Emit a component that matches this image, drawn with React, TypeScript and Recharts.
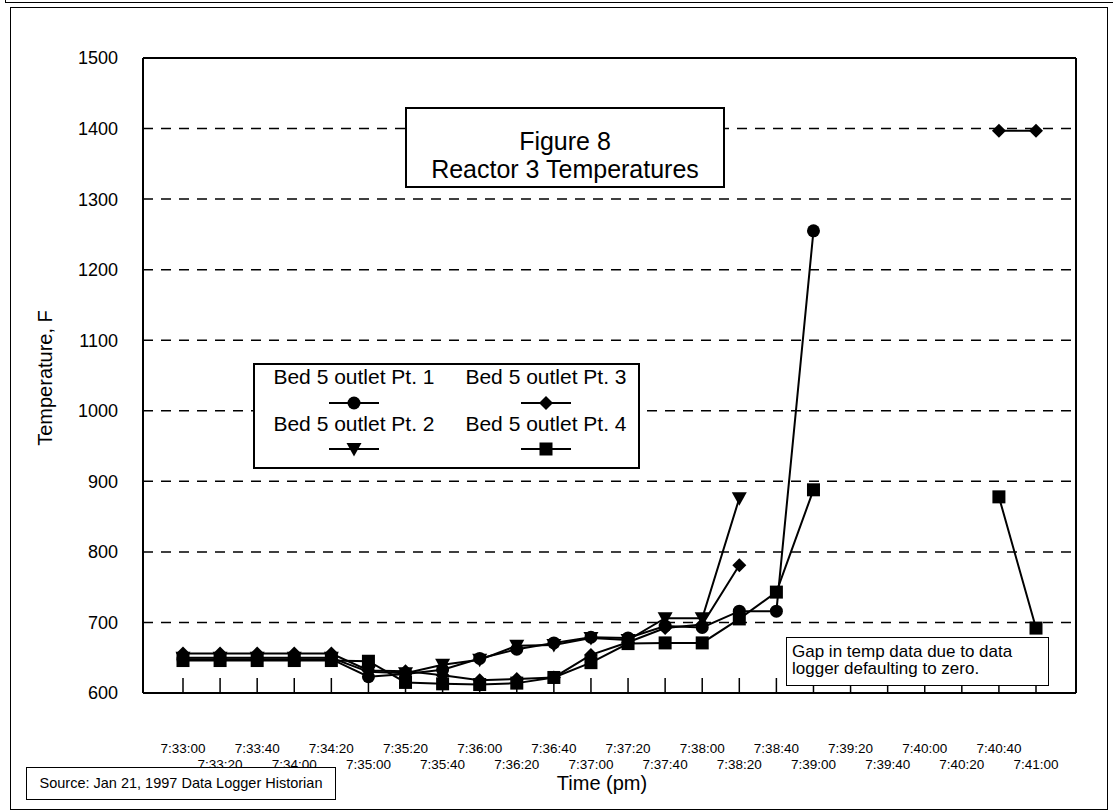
import React from 'react';
import { LineChart, Line, XAxis, YAxis, CartesianGrid, Legend } from 'recharts';

const times = ['7:33:00', '7:33:20', '7:33:40', '7:34:00', '7:34:20', '7:35:00', '7:35:20', '7:35:40', '7:36:00', '7:36:20', '7:36:40', '7:37:00', '7:37:20', '7:37:40', '7:38:00', '7:38:20', '7:38:40', '7:39:00', '7:39:20', '7:39:40', '7:40:00', '7:40:20', '7:40:40', '7:41:00'];
const pt1: (number | null)[] = [648, 648, 648, 648, 648, 623, 627, 633, 649, 662, 671, 679, 678, 695, 693, 716, 716, 1255, null, null, null, null, null, null];
const pt2: (number | null)[] = [650, 650, 650, 650, 650, 630, 628, 640, 647, 667, 668, 678, 675, 706, 706, 876, null, null, null, null, null, null, null, null];
const pt3: (number | null)[] = [656, 656, 656, 656, 656, 632, 631, 625, 618, 620, 622, 654, 672, 692, 697, 781, null, null, null, null, null, null, 1397, 1397];
const pt4: (number | null)[] = [646, 646, 646, 646, 646, 645, 615, 613, 612, 614, 622, 643, 670, 671, 671, 705, 743, 888, null, null, null, null, 878, 692];
const yTicks = [600, 700, 800, 900, 1000, 1100, 1200, 1300, 1400, 1500];

const seriesNames = ['Bed 5 outlet Pt. 1', 'Bed 5 outlet Pt. 2', 'Bed 5 outlet Pt. 3', 'Bed 5 outlet Pt. 4'];
const seriesKeys = ['pt1', 'pt2', 'pt3', 'pt4'];
const seriesShapes = ['circle', 'triangle', 'diamond', 'square'];

const data = times.map((t, i) => ({ time: t, pt1: pt1[i], pt2: pt2[i], pt3: pt3[i], pt4: pt4[i] }));

const FONT = '"Liberation Sans", Arial, Helvetica, sans-serif';

function Marker({ kind, cx, cy }: { kind: string; cx: number; cy: number }) {
  if (kind === 'circle') return <circle cx={cx} cy={cy} r={6.5} fill="#000" />;
  if (kind === 'triangle')
    return <polygon points={`${cx - 7.5},${cy - 6} ${cx + 7.5},${cy - 6} ${cx},${cy + 7.5}`} fill="#000" />;
  if (kind === 'diamond')
    return <polygon points={`${cx},${cy - 7} ${cx + 7},${cy} ${cx},${cy + 7} ${cx - 7},${cy}`} fill="#000" />;
  return <rect x={cx - 6.5} y={cy - 6.5} width={13} height={13} fill="#000" />;
}

const makeDot = (kind: string) => (props: any) => {
  const { cx, cy, index, value } = props;
  if (cx == null || cy == null || value == null || Number.isNaN(cy)) return <g key={`e${index}`} />;
  return (
    <g key={`d${index}`}>
      <Marker kind={kind} cx={cx} cy={cy} />
    </g>
  );
};

const XTick = (props: any) => {
  const { x, y, payload } = props;
  const idx = payload?.index ?? props.index ?? 0;
  const second = idx % 2 === 1;
  return (
    <text x={x} y={y} dy={second ? 91 : 75} textAnchor="middle" fontSize={13.5} fontFamily={FONT} fill="#000">
      {payload.value}
    </text>
  );
};

const LegendBox = () => {
  const cols = [99, 291];
  const items = [0, 1, 2, 3];
  return (
    <div
      style={{
        position: 'relative',
        width: 387,
        height: 106,
        border: '2px solid #000',
        boxSizing: 'border-box',
        background: '#fff',
        fontFamily: FONT,
      }}
    >
      {items.map((i) => {
        const col = i < 2 ? 0 : 1;
        const row = i % 2;
        const cx = cols[col];
        const ty = row === 0 ? 12 : 59;
        const my = row === 0 ? 38 : 84;
        return (
          <React.Fragment key={i}>
            <div
              style={{
                position: 'absolute',
                left: cx - 110,
                width: 220,
                top: ty - 13,
                textAlign: 'center',
                fontSize: 21,
                lineHeight: '26px',
                color: '#000',
                whiteSpace: 'nowrap',
              }}
            >
              {seriesNames[i]}
            </div>
            <svg style={{ position: 'absolute', left: cx - 30, top: my - 10 }} width={60} height={20}>
              <line x1={5} y1={10} x2={55} y2={10} stroke="#000" strokeWidth={2} />
              <Marker kind={seriesShapes[i]} cx={30} cy={10} />
            </svg>
          </React.Fragment>
        );
      })}
    </div>
  );
};

export default function App() {
  return (
    <div style={{ position: 'absolute', left: 0, top: 0, width: 1113, height: 810, background: '#fff', fontFamily: FONT, overflow: 'hidden' }}>
      <div style={{ position: 'absolute', left: 5, top: 0, width: 1108, height: 2, borderBottom: '1.5px solid #000', borderLeft: '1.5px solid #000' }} />
      <div style={{ position: 'absolute', left: 10, top: 7, width: 1098, height: 803, border: '1.5px solid #000', boxSizing: 'border-box' }} />
      <LineChart width={1113} height={810} data={data} margin={{ top: 57, right: 36, bottom: 37, left: 83 }}>
        <CartesianGrid vertical={false} stroke="#000" strokeWidth={1.5} strokeDasharray="10 8" />
        <XAxis
          dataKey="time"
          type="category"
          interval={0}
          padding={{ left: 40, right: 40 }}
          height={80}
          axisLine={{ stroke: '#000', strokeWidth: 2 }}
          tickLine={{ stroke: '#000', strokeWidth: 1.5 }}
          tickSize={-15}
          tickMargin={0}
          tick={<XTick />}
        />
        <XAxis xAxisId="top" dataKey="time" orientation="top" height={1} tick={false} tickLine={false} axisLine={{ stroke: '#000', strokeWidth: 2 }} padding={{ left: 40, right: 40 }} />
        <YAxis
          domain={[600, 1500]}
          ticks={yTicks}
          type="number"
          width={60}
          tickSize={0}
          tickMargin={25}
          tickLine={false}
          axisLine={{ stroke: '#000', strokeWidth: 2 }}
          tick={{ fill: '#000', fontSize: 18, fontFamily: FONT }}
        />
        <YAxis yAxisId="r" orientation="right" domain={[600, 1500]} width={1} tick={false} tickLine={false} axisLine={{ stroke: '#000', strokeWidth: 2 }} />
        {seriesKeys.map((k, i) => (
          <Line
            key={k}
            dataKey={k}
            name={seriesNames[i]}
            type="linear"
            stroke="#000"
            strokeWidth={2}
            connectNulls={false}
            dot={makeDot(seriesShapes[i])}
            activeDot={false}
            isAnimationActive={false}
          />
        ))}
        <Legend
          layout="vertical"
          align="center"
          verticalAlign="middle"
          wrapperStyle={{ position: 'absolute', left: 253, top: 363, width: 387, height: 106 }}
          content={() => <LegendBox />}
        />
      </LineChart>
      <div
        style={{
          position: 'absolute',
          left: 405,
          top: 107,
          width: 320,
          height: 81,
          border: '2px solid #000',
          boxSizing: 'border-box',
          background: '#fff',
          color: '#000',
        }}
      >
        <div style={{ position: 'absolute', left: 0, width: 316, top: 18, textAlign: 'center', fontSize: 25, lineHeight: '28px', whiteSpace: 'nowrap' }}>
          Figure 8
        </div>
        <div style={{ position: 'absolute', left: 0, width: 316, top: 46, textAlign: 'center', fontSize: 25, lineHeight: '28px', whiteSpace: 'nowrap' }}>
          Reactor 3 Temperatures
        </div>
      </div>
      <div
        style={{
          position: 'absolute',
          left: 786,
          top: 637,
          width: 263,
          height: 49,
          border: '1.5px solid #000',
          boxSizing: 'border-box',
          background: '#fff',
          fontSize: 17,
          lineHeight: '17px',
          paddingLeft: 5,
          paddingTop: 5,
          color: '#000',
          whiteSpace: 'nowrap',
        }}
      >
        Gap in temp data due to data
        <br />
        logger defaulting to zero.
      </div>
      <div
        style={{
          position: 'absolute',
          left: 26,
          top: 767,
          width: 310,
          height: 33,
          border: '1.5px solid #000',
          boxSizing: 'border-box',
          background: '#fff',
          fontSize: 14.5,
          lineHeight: '30px',
          textAlign: 'center',
          color: '#000',
          whiteSpace: 'nowrap',
        }}
      >
        Source: Jan 21, 1997 Data Logger Historian
      </div>
      <div style={{ position: 'absolute', left: 502, top: 773, width: 200, textAlign: 'center', fontSize: 20, lineHeight: '20px', color: '#000' }}>
        Time (pm)
      </div>
      <div
        style={{
          position: 'absolute',
          left: 45 - 100,
          top: 378 - 12,
          width: 200,
          height: 24,
          textAlign: 'center',
          fontSize: 20,
          lineHeight: '24px',
          color: '#000',
          transform: 'rotate(-90deg)',
          whiteSpace: 'nowrap',
        }}
      >
        Temperature, F
      </div>
    </div>
  );
}
